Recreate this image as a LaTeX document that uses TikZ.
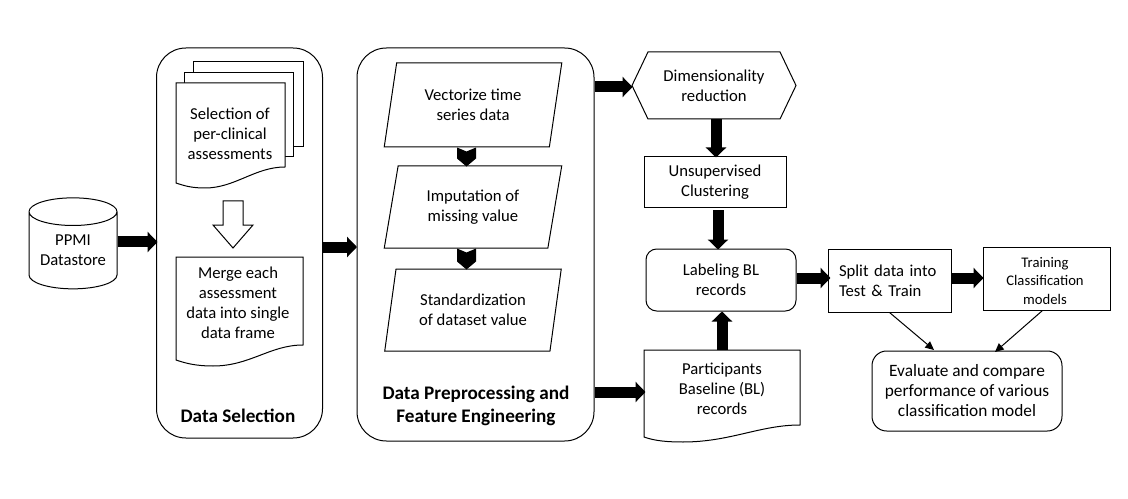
\documentclass[tikz,border=0pt]{standalone}
\usepackage{fontspec}
\setmainfont{Carlito}
\usepackage{tikz}
\usetikzlibrary{positioning}
\usetikzlibrary{shapes.geometric}
\usetikzlibrary{shapes.symbols}
\usetikzlibrary{arrows.meta}

\begin{document}
\begin{tikzpicture}[
            x = 0.75pt,
            y = -0.75pt,
            line width = 0.75pt,
            font = \fontsize{12.5}{15}\selectfont,
            panel/.style = {
                draw,
                rounded corners = 22pt,
                minimum width = 124.5pt
            },
            sheet/.style = {
                align = center,
                inner sep = 0pt
            },
            box/.style = {
                draw,
                align = center,
                inner sep = 0pt
            },
            slanted/.style = {
                draw,
                trapezium,
                trapezium left angle = 76,
                trapezium right angle = 104,
                trapezium stretches = true,
                align = center,
                inner sep = 0pt,
                minimum width = 133.5pt
            },
            title/.style = {
                font = \fontsize{14.4}{17.3}\selectfont\bfseries,
                align = center
            },
            fat/.style = {
                line width = 8.25pt,
                -{Triangle[length = 7.5pt, width = 15pt]}
            },
            thin/.style = {
                -{Triangle[length = 6.5pt, width = 6pt]}
            }
            ]
            \useasboundingbox (0,0) rectangle (1128,499);

            % panels
            \node[panel, minimum height = 292.5pt] (select) at (239.5,243) {};
            \node[panel, minimum width = 177.75pt, minimum height = 294.75pt] (prep) at (475.5,244.5) {};
            \node[title] (selecttitle) at (238,416) {Data Selection};
            \node[title] (preptitle) at (476,406) {Data Preprocessing and\\Feature Engineering};

            % datastore
            \node[draw, cylinder, shape border rotate = 90, aspect = 0.42, align = center,
                minimum width = 66pt, minimum height = 68.25pt, inner sep = 0pt] (ppmi) at (73,250.5)
                {PPMI\\Datastore};

            % stack of sheets
            \draw[fill = white] (193,62) rectangle (303,147);
            \draw[fill = white] (184,73) rectangle (293,157);
            \draw[fill = white] (176,83) -- (285,83) -- (285,167) .. controls (255,167) and (235,188) .. (205,188) .. controls (192,188) and (185,186) .. (176,183) -- cycle;
            \node[sheet] (selection) at (230,134) {Selection of\\per-clinical\\assessments};

            \draw[fill = white] (223,201) -- (243,201) -- (243,225) -- (253,225) -- (233,248) -- (213,225) -- (223,225) -- cycle;

            \draw (176,257) -- (303,257) -- (303,345) .. controls (270,345) and (250,366) .. (213,366) .. controls (195,366) and (185,363) .. (176,360) -- cycle;
            \node[sheet] (merge) at (238,303) {Merge each\\assessment\\data into single\\data frame};

            % preprocessing steps
            \node[slanted, minimum height = 63pt] (vector) at (473,105) {Vectorize time\\series data};
            \node[slanted, minimum height = 61.5pt] (impute) at (473,207) {Imputation of\\missing value};
            \node[slanted, minimum height = 61.5pt] (standard) at (473,310) {Standardization\\of dataset value};
            \fill (vector.south) ++(-16,0) -- ++(9.5,4) -- ++(9.5,-4) -- ++(0,11) -- ++(-9.5,8) -- ++(-9.5,-8) -- cycle;
            \fill (impute.south) ++(-16,0) -- ++(9.5,4) -- ++(9.5,-4) -- ++(0,13) -- ++(-9.5,8) -- ++(-9.5,-8) -- cycle;

            % right hand side
            \node[draw, signal, signal to = west and east, signal pointer angle = 129, align = center, inner sep = 0pt,
                minimum width = 123pt, minimum height = 50.25pt] (dim) at (714,85.5) {Dimensionality\\reduction};
            \node[box, minimum width = 106.5pt, minimum height = 38.25pt] (unsup) at (715,182.5) {Unsupervised\\Clustering};
            \node[box, rounded corners = 8pt, minimum width = 112.5pt, minimum height = 46.5pt] (label) at (721,280) {Labeling BL\\records};
            \draw (644,350) -- (800,350) -- (800,425) .. controls (760,425) and (730,442) .. (683,442) .. controls (668,442) and (655,441) .. (644,437) -- cycle;
            \node[sheet, minimum width = 117pt, minimum height = 58.5pt] (part) at (722,389) {Participants\\Baseline (BL)\\records};
            \node[box, align = left, text width = 75.75pt, inner xsep = 8.25pt, minimum height = 47.25pt] (split) at (889.5,280.5) {Split data into\\Test \& Train};
            \node[box, minimum width = 95.25pt, minimum height = 47.25pt] (train) at (1046.5,278.5) {};
            \node[sheet, font = \fontsize{11}{14}\selectfont] (traintext) at (1045,281) {Training\\Classification\\models};
            \node[box, font = \fontsize{13}{15}\selectfont, rounded corners = 11pt, minimum width = 142.5pt, minimum height = 60pt] (eval) at (967,391) {Evaluate and compare\\performance of various\\classification model};
            \coordinate (evalleft) at (934,350);
            \coordinate (evalright) at (995,352);

            % connectors
            \draw[fat] (ppmi.east) ++(0,-8.5) -- ++(40,0);
            \draw[fat] (select.east) ++(0,4) -- ++(34,0);
            \draw[fat] (prep.east |- dim.west) ++(0,1.5) -- ++(38,0);
            \draw[fat] (prep.east |- part.west) ++(0,3) -- ++(51,0);
            \draw[fat] (dim.south) ++(2,0) -- ++(0,38);
            \draw[fat] (unsup.south) ++(3,2) -- ++(0,39);
            \draw[fat] (part.north) -- (part.north |- label.south);
            \draw[fat] (label.east) ++(0,-2) -- ++(34,0);
            \draw[fat] (split.east) ++(0,-2.5) -- ++(32,0);
            \draw[thin] (split.south) -- (evalleft);
            \draw[thin] ([xshift = -3pt]train.south) -- (evalright);
        \end{tikzpicture}
\end{document}
